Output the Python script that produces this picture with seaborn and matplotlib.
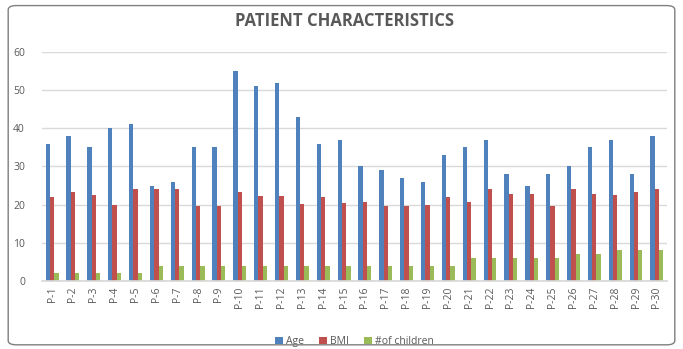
import matplotlib
matplotlib.use("Agg")
import matplotlib.pyplot as plt
from matplotlib.patches import FancyBboxPatch
import seaborn as sns
import pandas as pd

patients = [f"P-{i}" for i in range(1, 31)]
age = [36, 38, 35, 40, 41, 25, 26, 35, 35, 55, 51, 52, 43, 36, 37,
       30, 29, 27, 26, 33, 35, 37, 28, 25, 28, 30, 35, 37, 28, 38]
bmi = [22, 23.2, 22.6, 20, 24, 24, 24, 19.7, 19.7, 23.4, 22.3, 22.3, 20.2, 22, 20.5,
       20.8, 19.7, 19.7, 20, 22, 20.8, 24, 22.8, 22.8, 19.6, 24, 22.8, 22.6, 23.4, 24]
children = [2, 2, 2, 2, 2, 4, 4, 4, 4, 4, 4, 4, 4, 4, 4,
            4, 4, 4, 4, 4, 6, 6, 6, 6, 6, 7, 7, 8, 8, 8]
series_names = ["Age", "BMI", "#of children"]
colors = ["#4F81BD", "#C0504D", "#9BBB59"]

df = pd.DataFrame({"Patient": patients, series_names[0]: age,
                   series_names[1]: bmi, series_names[2]: children})
long = df.melt(id_vars="Patient", var_name="Measure", value_name="Value")

sns.set_theme(style="white")
plt.rcParams["font.family"] = ["Open Sans", "DejaVu Sans"]
text_col = "#595959"

fig = plt.figure(figsize=(6.83, 3.49), dpi=100)
ax = fig.add_axes([0.061, 0.195, 0.916, 0.656])

sns.barplot(data=long, x="Patient", y="Value", hue="Measure",
            hue_order=series_names, palette=colors, width=0.62,
            saturation=1, linewidth=0, edgecolor="none", ax=ax, legend=True)

ax.set_ylim(0, 60)
ax.set_yticks(range(0, 61, 10))
ax.yaxis.grid(True, color="#D9D9D9", linewidth=1)
ax.set_axisbelow(True)
for s in ["top", "right", "left"]:
    ax.spines[s].set_visible(False)
ax.spines["bottom"].set_color("#D9D9D9")
ax.set_xlabel("")
ax.set_ylabel("")
ax.tick_params(axis="x", labelrotation=90, labelsize=7.5, colors=text_col, length=0, pad=4)
ax.tick_params(axis="y", labelsize=7.5, colors=text_col, length=0, pad=12)

ax.legend(loc="upper center", bbox_to_anchor=(0.5, -0.2), ncol=3, frameon=False,
          fontsize=7.5, handlelength=0.7, handleheight=0.7, columnspacing=1.5,
          handletextpad=0.3, labelcolor=text_col)

fig.text(0.505, 0.94, "PATIENT CHARACTERISTICS", ha="center", va="center",
         fontsize=12, fontweight="bold", color=text_col)

border = FancyBboxPatch((0.012, 0.012), 0.976, 0.972, boxstyle="round,pad=0,rounding_size=0.012",
                        transform=fig.transFigure, fill=False, edgecolor="#7F7F7F",
                        linewidth=1)
fig.patches.append(border)

fig.savefig("out.png", dpi=100)
